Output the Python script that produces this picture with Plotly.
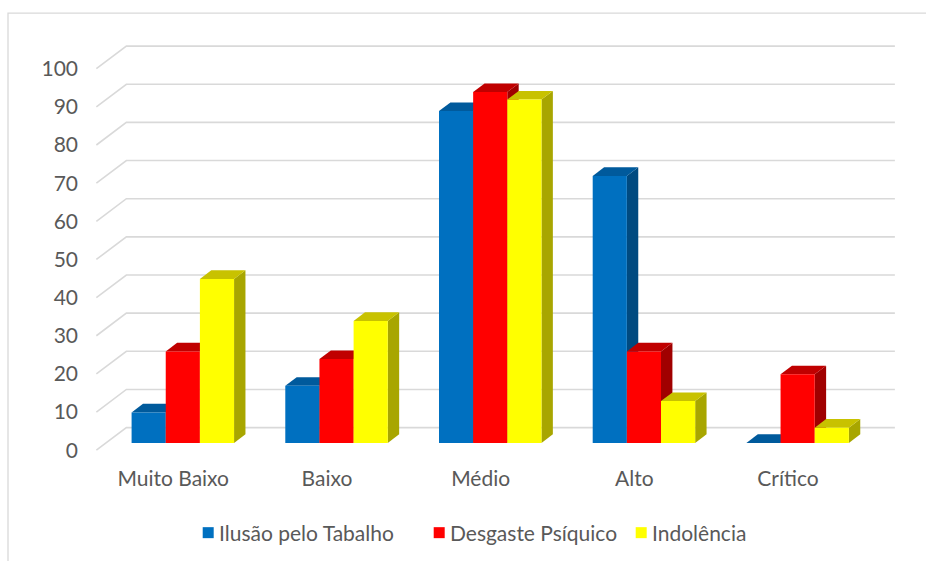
import plotly.graph_objects as go

categories = ["Muito Baixo", "Baixo", "Médio", "Alto", "Crítico"]
series_names = ["Ilusão pelo Tabalho", "Desgaste Psíquico", "Indolência"]
ilusao = [8, 15, 87, 70, 0]
desgaste = [24, 22, 92, 24, 18]
indolencia = [43, 32, 90, 11, 4]
y_ticks = [0, 10, 20, 30, 40, 50, 60, 70, 80, 90, 100]

series_values = [ilusao, desgaste, indolencia]
front_colors = ["#0070C0", "#FF0000", "#FFFF00"]
top_colors = ["#005A9C", "#C00000", "#C8C200"]
side_colors = ["#004A80", "#A00000", "#A8A600"]

# oblique 3D projection parameters (in axis units)
DX = 30 / 153.7     # full depth, horizontal shift
DY = 22.6 / 3.817   # full depth, vertical shift
F0 = 0.32           # bar front position in depth fraction
FD = 0.38           # bar depth fraction
GROUP = 2 / 3
BW = GROUP / 3

FONT = "Lato"
GRAY = "#595959"
GRID = "#D9D9D9"

# plot-area geometry in pixels (for paper-coordinate conversion)
PL, PW, PT, PH = 81.3, 830.0, 41.6, 412.2
def px(x):
    return (x - PL) / PW
def py(y):
    return (PT + PH - y) / PH

fig = go.Figure()

# back-wall gridlines with side diagonal
n = len(categories)
for v in y_ticks:
    fig.add_trace(go.Scatter(
        x=[-0.5, -0.5 + DX, n - 0.5 + DX],
        y=[v, v + DY, v + DY],
        mode="lines", line=dict(color=GRID, width=1.6),
        hoverinfo="skip", showlegend=False))

def poly(xs, ys, color):
    fig.add_trace(go.Scatter(
        x=xs + [xs[0]], y=ys + [ys[0]], mode="lines", fill="toself",
        fillcolor=color, line=dict(width=0, color=color),
        hoverinfo="skip", showlegend=False))

base = F0 * DY
bx = FD * DX
by = FD * DY
for i in range(n):
    for j, vals in enumerate(series_values):
        v = vals[i]
        xl = i - GROUP / 2 + j * BW + F0 * DX
        xr = xl + BW
        top = base + v
        if v > 0:
            poly([xr, xr + bx, xr + bx, xr], [base, base + by, top + by, top], side_colors[j])
        poly([xl, xr, xr + bx, xl + bx], [top, top, top + by, top + by], top_colors[j])
        if v > 0:
            poly([xl, xr, xr, xl], [base, base, top, top], front_colors[j])

# manual legend (square + label)
legend_x = [203, 434, 636]
shapes = [dict(type="rect", xref="paper", yref="paper",
               x0=px(8.3), x1=px(940), y0=py(580), y1=py(12.7),
               line=dict(color=GRID, width=1.3), layer="below")]
annotations = []
for lx, name, c in zip(legend_x, series_names, front_colors):
    shapes.append(dict(type="rect", xref="paper", yref="paper",
                       x0=px(lx), x1=px(lx + 11), y0=py(538), y1=py(527),
                       fillcolor=c, line=dict(width=0)))
    annotations.append(dict(xref="paper", yref="paper", x=px(lx + 14), y=py(532.5),
                            xanchor="left", yanchor="middle", showarrow=False,
                            text=name, font=dict(family=FONT, size=21, color=GRAY)))

fig.update_layout(
    width=926, height=561,
    margin=dict(l=PL, r=926 - PL - PW, t=PT, b=561 - PT - PH),
    paper_bgcolor="white", plot_bgcolor="white",
    font=dict(family=FONT, size=21, color=GRAY),
    showlegend=False,
    xaxis=dict(range=[-0.6, 4.8], tickvals=list(range(n)), ticktext=categories,
               showgrid=False, zeroline=False, showline=False, ticks="",
               ticklabelstandoff=10, fixedrange=True),
    yaxis=dict(range=[-1, 107], tickvals=y_ticks, showgrid=False, zeroline=False,
               showline=False, ticks="", ticklabelstandoff=2, fixedrange=True),
    shapes=shapes,
    annotations=annotations,
)

fig.write_html("out.html")
